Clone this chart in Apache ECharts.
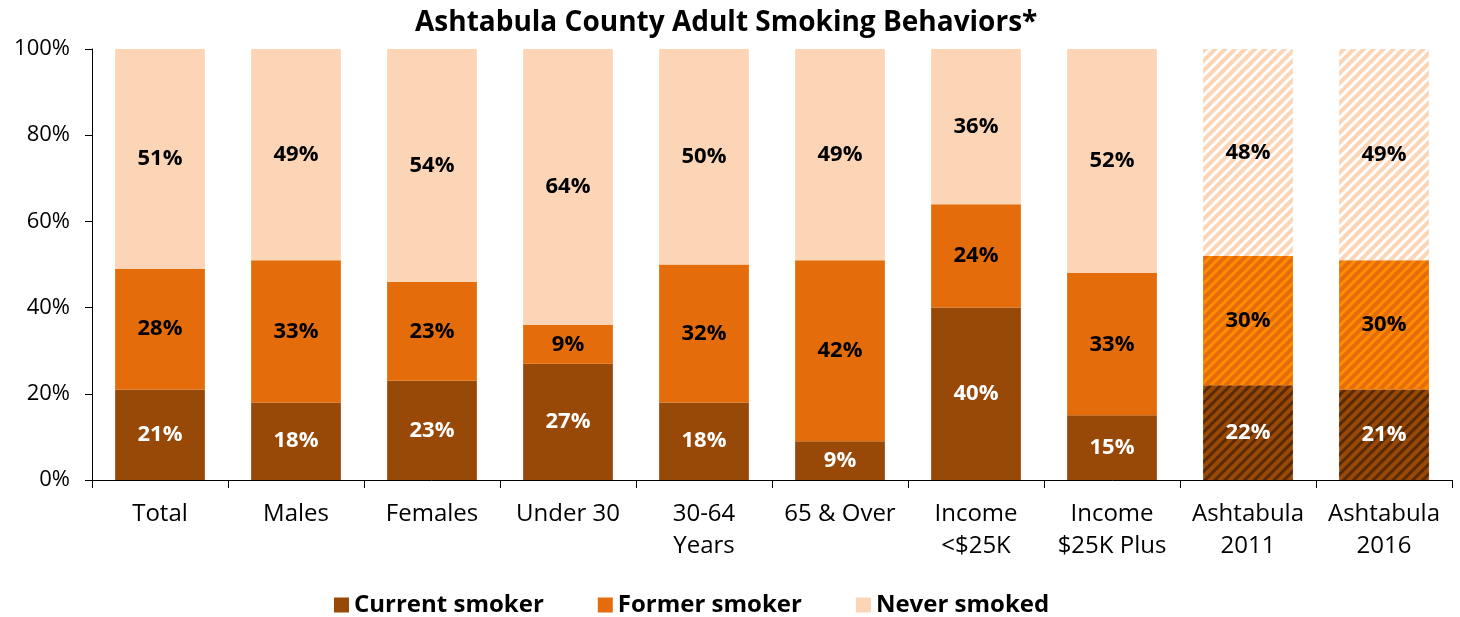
<!DOCTYPE html>
<html><head><meta charset="utf-8">
<script src="https://cdn.jsdelivr.net/npm/echarts@6/dist/echarts.min.js"></script>
<style>html,body{margin:0;padding:0;background:#fff}#c{width:1460px;height:617px}</style>
</head><body><div id="c"></div>
<script>
const categories = ['Total','Males','Females','Under 30','30-64\nYears','65 & Over','Income\n<$25K','Income\n$25K Plus','Ashtabula\n2011','Ashtabula\n2016'];
const currentSmoker = [21,18,23,27,18,9,40,15,22,21];
const formerSmoker = [28,33,23,9,32,42,24,33,30,30];
const neverSmoked = [51,49,54,64,50,49,36,52,48,49];
const hatchedCategories = ['Ashtabula\n2011','Ashtabula\n2016'];
const yTicks = [0,20,40,60,80,100];

const FONT = "'Open Sans', 'Noto Sans', sans-serif";
const colors = ['#984807','#E46C0A','#FBD5B5'];
const stripe = ['#5a2a05','#FF8C00','#ffffff'];

function makeData(vals, idx){
  return vals.map((v,i)=>{
    if (hatchedCategories.includes(categories[i])) {
      return {value:v, itemStyle:{decal:{symbol:'rect', color:stripe[idx], dashArrayX:[1,0], dashArrayY:[3,4], rotation:-Math.PI/4, symbolSize:1}}};
    }
    return v;
  });
}
const names = ['Current smoker','Former smoker','Never smoked'];
const vals = [currentSmoker, formerSmoker, neverSmoked];
const chart = echarts.init(document.getElementById('c'));
chart.setOption({
  animation:false,
  title:{text:'Ashtabula County Adult Smoking Behaviors*', left:410, top:4, textStyle:{fontFamily:FONT, fontWeight:'bold', fontSize:28, color:'#000'}},
  legend:{top:588, left:329, itemWidth:15, itemHeight:15, itemGap:54, icon:'rect',
    textStyle:{fontFamily:FONT, fontWeight:'bold', fontSize:24, color:'#000'}, data:names},
  grid:{left:92, right:8, top:49, bottom:137},
  xAxis:{type:'category', data:categories,
    axisLine:{lineStyle:{color:'#000'}},
    axisTick:{show:true, alignWithLabel:false, length:8, lineStyle:{color:'#000'}},
    axisLabel:{fontFamily:FONT, fontSize:24, color:'#000', lineHeight:32, margin:18, interval:0}},
  yAxis:{type:'value', min:0, max:100, interval:20,
    axisLine:{show:true, lineStyle:{color:'#000'}},
    axisTick:{show:true, length:7, lineStyle:{color:'#000'}},
    splitLine:{show:false},
    axisLabel:{fontFamily:FONT, fontSize:22, color:'#000', margin:22, formatter:v=>yTicks.includes(v)?v+'%':''}},
  series: names.map((n,i)=>({
    name:n, type:'bar', stack:'s', barWidth:'66%',
    itemStyle:{color:colors[i]},
    label:{show:true, position:'inside', formatter:'{c}%', fontFamily:FONT, fontWeight:'bold', fontSize:22, color: i===0?'#fff':'#000'},
    data: makeData(vals[i], i)
  }))
});
</script></body></html>
